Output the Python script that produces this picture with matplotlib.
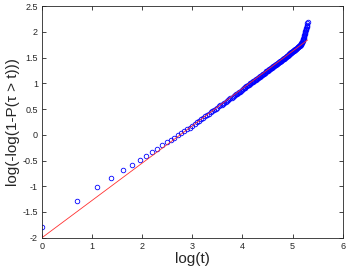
import numpy as np
import matplotlib
matplotlib.use("Agg")
import matplotlib.pyplot as plt

plt.rcParams['font.family'] = ['Liberation Sans', 'DejaVu Sans']

# observed times t = 1..200 (x axis is log(t))
t_values = list(range(1, 201))

# log(-log(1-P(tau > t))), one per t
y_values = [
    -1.80, -1.29, -1.02, -0.84, -0.69, -0.58, -0.49, -0.42, -0.33, -0.27,
    -0.20, -0.15, -0.10, -0.06, -0.01, 0.03, 0.07, 0.11, 0.14, 0.18,
    0.21, 0.24, 0.27, 0.30, 0.33, 0.36, 0.39, 0.41, 0.44, 0.46,
    0.49, 0.51, 0.53, 0.55, 0.57, 0.58, 0.60, 0.62, 0.64, 0.65,
    0.67, 0.69, 0.71, 0.72, 0.74, 0.76, 0.77, 0.79, 0.80, 0.82,
    0.83, 0.84, 0.86, 0.87, 0.89, 0.90, 0.91, 0.92, 0.94, 0.95,
    0.96, 0.97, 0.98, 1.00, 1.01, 1.02, 1.03, 1.04, 1.05, 1.06,
    1.07, 1.08, 1.09, 1.10, 1.11, 1.12, 1.13, 1.14, 1.15, 1.16,
    1.17, 1.18, 1.18, 1.19, 1.20, 1.21, 1.22, 1.23, 1.23, 1.24,
    1.25, 1.26, 1.27, 1.27, 1.28, 1.29, 1.30, 1.30, 1.31, 1.32,
    1.33, 1.33, 1.34, 1.35, 1.35, 1.36, 1.37, 1.37, 1.38, 1.39,
    1.39, 1.40, 1.41, 1.41, 1.42, 1.43, 1.43, 1.44, 1.44, 1.45,
    1.46, 1.47, 1.47, 1.48, 1.48, 1.49, 1.50, 1.50, 1.51, 1.51,
    1.52, 1.53, 1.53, 1.54, 1.54, 1.55, 1.55, 1.56, 1.56, 1.57,
    1.58, 1.58, 1.59, 1.59, 1.60, 1.60, 1.61, 1.61, 1.62, 1.62,
    1.63, 1.63, 1.64, 1.64, 1.65, 1.65, 1.66, 1.66, 1.67, 1.67,
    1.68, 1.68, 1.69, 1.70, 1.70, 1.71, 1.71, 1.72, 1.72, 1.73,
    1.73, 1.74, 1.75, 1.75, 1.76, 1.77, 1.78, 1.79, 1.80, 1.81,
    1.83, 1.84, 1.86, 1.87, 1.89, 1.90, 1.92, 1.94, 1.95, 1.97,
    1.99, 2.01, 2.03, 2.05, 2.07, 2.09, 2.11, 2.14, 2.17, 2.20,
]

# fitted straight line: y = slope * log(t) + intercept
fit_slope = 0.725
fit_intercept = -2.0

x_ticks = [0, 1, 2, 3, 4, 5, 6]
y_ticks = [-2, -1.5, -1, -0.5, 0, 0.5, 1, 1.5, 2, 2.5]
y_tick_labels = ['-2', '-1.5', '-1', '-0.5', '0', '0.5', '1', '1.5', '2', '2.5']

x = np.log(np.array(t_values, dtype=float))
y = np.array(y_values)

fig = plt.figure(figsize=(3.46, 2.76), dpi=100)
ax = fig.add_axes([0.1214, 0.1388, 0.869, 0.839])

ax.plot(x, y, linestyle='none', marker='o', markersize=3.3,
        markerfacecolor='none', markeredgecolor='#0000ff', markeredgewidth=0.6)
line_x = np.array([x.min(), x.max()])
ax.plot(line_x, fit_slope * line_x + fit_intercept, color='#ff3030', linewidth=0.6)

ax.set_xlim(0, 6)
ax.set_ylim(-2, 2.5)
ax.set_xticks(x_ticks)
ax.set_yticks(y_ticks)
ax.set_yticklabels(y_tick_labels)

gray = '#262626'
for s in ax.spines.values():
    s.set_color(gray)
    s.set_linewidth(0.6)
ax.tick_params(direction='in', length=3, width=0.6, colors=gray,
               labelsize=6.5, top=True, right=True, pad=3)

ax.set_xlabel('log(t)', fontsize=11, color=gray, labelpad=1)
ax.set_ylabel('log(-log(1-P(τ > t)))', fontsize=11, color=gray, labelpad=1.5)

fig.savefig('out.png', dpi=100)
